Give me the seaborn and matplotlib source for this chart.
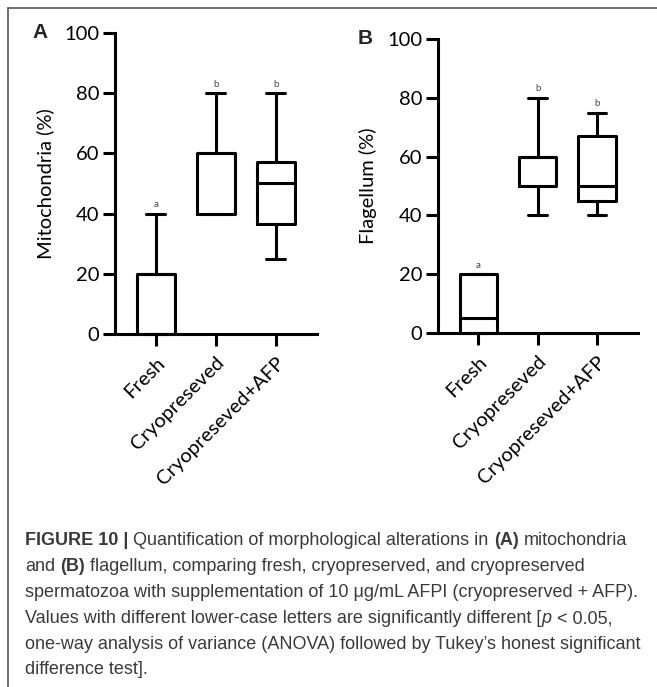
import matplotlib
matplotlib.use("Agg")
import matplotlib.pyplot as plt
from matplotlib.lines import Line2D
import numpy as np
import pandas as pd
import seaborn as sns

# ---------------- data (five-number summaries) ----------
groups = ["Fresh", "Cryopreseved", "Cryopreseved+AFP"]

mito_min = [0, 40, 25]
mito_q1 = [0, 40, 36.5]
mito_med = [20, 60, 50]
mito_q3 = [20, 60, 57]
mito_max = [40, 80, 80]

flag_min = [0, 40, 40]
flag_q1 = [0, 50, 45]
flag_med = [5, 60, 50]
flag_q3 = [20, 60, 67]
flag_max = [20, 80, 75]

mito_letters = ["a", "b", "b"]
flag_letters = ["a", "b", "b"]

yticks = [0, 20, 40, 60, 80, 100]

caption_lines = [
    [("FIGURE 10 |", "bold", "normal"), ("Quantification of morphological alterations in", "normal", "normal"),
     ("(A)", "bold", "normal"), ("mitochondria", "normal", "normal")],
    [("and", "normal", "normal"), ("(B)", "bold", "normal"),
     ("flagellum, comparing fresh, cryopreserved, and cryopreserved", "normal", "normal")],
    [("spermatozoa with supplementation of 10 \u03bcg/mL AFPI (cryopreserved + AFP).", "normal", "normal")],
    [("Values with different lower-case letters are significantly different [", "normal", "normal"),
     ("p", "normal", "italic"), ("< 0.05,", "normal", "normal")],
    [("one-way analysis of variance (ANOVA) followed by Tukey\u2019s honest significant", "normal", "normal")],
    [("difference test].", "normal", "normal")],
]
# segments joined without space (other boundaries get a space)
no_space_after = {(3, 0)}


def long_df(mins, q1s, meds, q3s, maxs):
    rows = []
    for g, a, b, c, d, e in zip(groups, mins, q1s, meds, q3s, maxs):
        for v in (a, b, c, d, e):
            rows.append({"group": g, "value": v})
    return pd.DataFrame(rows)


df_mito = long_df(mito_min, mito_q1, mito_med, mito_q3, mito_max)
df_flag = long_df(flag_min, flag_q1, flag_med, flag_q3, flag_max)

# ---------------- style ----------------
sns.set_style("ticks")
plt.rcParams["font.family"] = ["Lato", "DejaVu Sans"]

W, H = 657, 687
fig = plt.figure(figsize=(W / 100, H / 100), dpi=100)

LW = 2.2


def px_axes(left, right, top, bottom):
    return fig.add_axes([left / W, 1 - bottom / H, (right - left) / W, (bottom - top) / H])


axA = px_axes(115, 317, 33, 334)
axB = px_axes(438, 638, 39, 333)

for ax, df, maxs, letters, ylabel in [
    (axA, df_mito, mito_max, mito_letters, "Mitochondria (%)"),
    (axB, df_flag, flag_max, flag_letters, "Flagellum (%)"),
]:
    sns.boxplot(data=df, x="group", y="value", order=groups, whis=(0, 100),
                width=0.63, fill=False, color="black", linewidth=LW, ax=ax)
    for art in ax.get_children():
        if hasattr(art, "set_clip_on"):
            try:
                art.set_clip_on(False)
            except Exception:
                pass
    ax.set_xlim(-0.68, 2.69)
    ax.set_ylim(0, 100)
    ax.set_yticks(yticks)
    ax.set_yticklabels([str(t) for t in yticks], fontsize=14.5, color="black")
    ax.set_xticks(range(len(groups)))
    ax.set_xticklabels(groups, rotation=45, ha="right", rotation_mode="anchor",
                       fontsize=14.5, color="black")
    ax.set_xlabel("")
    ax.set_ylabel(ylabel, fontsize=14.5, color="black", labelpad=7)
    sns.despine(ax=ax)
    for s in ("left", "bottom"):
        ax.spines[s].set_linewidth(LW)
        ax.spines[s].set_color("black")
    ax.tick_params(axis="both", width=LW, length=8.5, color="black")
    ax.tick_params(axis="x", pad=6)
    ax.tick_params(axis="y", pad=3)
    for i, (m, lt) in enumerate(zip(maxs, letters)):
        ax.text(i, m + 3, lt, ha="center", va="center", fontsize=7, color="#444444")

fig.text(40 / W, 1 - 33 / H, "A", fontsize=15, fontweight="bold",
         family=["Liberation Sans", "DejaVu Sans"], ha="center", va="center")
fig.text(365 / W, 1 - 39 / H, "B", fontsize=15, fontweight="bold",
         family=["Liberation Sans", "DejaVu Sans"], ha="center", va="center")

# ---------------- frame ----------------
fig.add_artist(Line2D([7.5 / W, 1], [1 - 8 / H, 1 - 8 / H], transform=fig.transFigure,
                      color="#555555", lw=1.2))
fig.add_artist(Line2D([7.5 / W, 7.5 / W], [0, 1 - 8 / H], transform=fig.transFigure,
                      color="#555555", lw=1.2))

# ---------------- caption ----------------
fig.canvas.draw()
renderer = fig.canvas.get_renderer()
cap_family = ["Liberation Sans", "DejaVu Sans"]
cap_size = 13.0
cap_color = "#3a3a3a"


def text_width(s, **kw):
    t = fig.text(0, 0, s, fontsize=cap_size, family=cap_family, **kw)
    w = t.get_window_extent(renderer).width
    t.remove()
    return w


space_w = text_width("a a") - text_width("aa")

# baselines (px from top)
line_base = [545, 571, 597, 623, 649, 674]
for li, (segs, yy) in enumerate(zip(caption_lines, line_base)):
    x = 25.0
    for si, (s, wgt, sty) in enumerate(segs):
        t = fig.text(x / W, 1 - yy / H, s, fontsize=cap_size, family=cap_family,
                     fontweight=wgt, fontstyle=sty, color=cap_color, ha="left", va="baseline")
        x += t.get_window_extent(renderer).width
        if (li, si) not in no_space_after:
            x += space_w
        else:
            x += 0.5

fig.savefig("out.png", dpi=100, facecolor="white")
